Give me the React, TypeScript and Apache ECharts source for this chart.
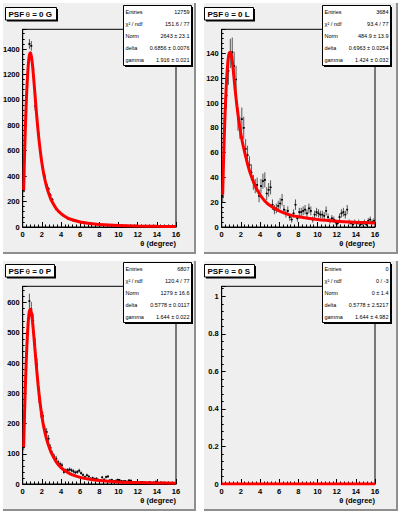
import React, { useEffect, useRef } from "react";
import * as echarts from "echarts";

// histogram bin centres (bin width 0.2 degree)
const binCenters = [
  0.1, 0.3, 0.5, 0.7, 0.9, 1.1, 1.3, 1.5, 1.7, 1.9,
  2.1, 2.3, 2.5, 2.7, 2.9, 3.1, 3.3, 3.5, 3.7, 3.9,
  4.1, 4.3, 4.5, 4.7, 4.9, 5.1, 5.3, 5.5, 5.7, 5.9,
  6.1, 6.3, 6.5, 6.7, 6.9, 7.1, 7.3, 7.5, 7.7, 7.9,
  8.1, 8.3, 8.5, 8.7, 8.9, 9.1, 9.3, 9.5, 9.7, 9.9,
  10.1, 10.3, 10.5, 10.7, 10.9, 11.1, 11.3, 11.5, 11.7, 11.9,
  12.1, 12.3, 12.5, 12.7, 12.9, 13.1, 13.3, 13.5, 13.7, 13.9,
  14.1, 14.3, 14.5, 14.7, 14.9, 15.1, 15.3, 15.5, 15.7, 15.9,
];

const countsG = [
  290, 820, 1200, 1440, 1425, 1245, 950, 860, 720, 560,
  470, 400, 330, 300, 250, 215, 170, 140, 125, 112,
  100, 88, 80, 66, 62, 56, 50, 53, 46, 40,
  38, 36, 35, 33, 30, 28, 25, 22, 21, 20,
  18, 16, 17, 14, 15, 13, 12, 14, 11, 12,
  10, 11, 9, 10, 8, 9, 7, 9, 8, 10,
  7, 6, 8, 6, 7, 5, 6, 5, 6, 4,
  5, 6, 4, 5, 4, 3, 5, 4, 3, 4,
];

const countsL = [
  25, 86, 106, 126, 140, 141, 130, 119, 87, 80,
  87, 80, 63, 58, 50, 44, 36, 33, 34, 25,
  33, 37, 38, 27, 30, 32, 18, 14, 15, 17,
  19, 22, 14, 11, 13, 8, 6, 11, 18, 7,
  12, 12, 13, 14, 11, 15, 13, 6, 10, 12,
  11, 10, 10, 9, 13, 8, 5, 7, 6, 4,
  3, 8, 11, 12, 10, 14, 4, 3, 2, 4,
  3, 4, 2, 3, 4, 2, 5, 6, 4, 5,
];

const countsP = [
  122, 350, 500, 605, 578, 540, 462, 395, 285, 235,
  225, 180, 172, 150, 120, 100, 90, 84, 72, 66,
  62, 40, 45, 46, 48, 45, 42, 38, 40, 44,
  36, 30, 23, 29, 25, 18, 20, 17, 18, 14,
  12, 22, 15, 23, 25, 12, 14, 10, 11, 14,
  13, 10, 9, 10, 8, 12, 11, 7, 6, 7,
  5, 6, 7, 5, 4, 5, 6, 4, 5, 8,
  4, 3, 5, 4, 3, 4, 3, 4, 3, 4,
];

const countsS: number[] = [];

// fitted curves
const curveXG = [0.1, 0.2, 0.3, 0.4, 0.5, 0.6, 0.7, 0.8, 0.9, 1.0, 1.1, 1.2, 1.3, 1.4, 1.6, 1.8, 2.0, 2.2, 2.5, 2.8, 3.0, 3.5, 4.0, 4.5, 5.0, 6.0, 7.0, 8.0, 10, 12, 14, 16];
const curveYG = [290, 580, 830, 1030, 1180, 1290, 1350, 1370, 1345, 1290, 1210, 1120, 1025, 930, 760, 620, 505, 415, 315, 245, 208, 145, 105, 79, 61, 39, 27, 20, 12, 8, 5.5, 4];

const curveXL = [0.1, 0.2, 0.3, 0.4, 0.5, 0.6, 0.7, 0.8, 0.9, 1.0, 1.1, 1.2, 1.4, 1.6, 1.8, 2.0, 2.2, 2.5, 2.8, 3.0, 3.5, 4.0, 4.5, 5.0, 6.0, 7.0, 8.0, 10, 12, 14, 16];
const curveYL = [26, 55, 80, 101, 117, 129, 137, 140.5, 141, 139, 134, 127, 111, 97, 85, 75, 67, 57, 48, 43, 33, 26, 21, 17.5, 13, 10, 8.2, 6, 4.7, 3.9, 3.3];

const curveXP = [0.1, 0.2, 0.3, 0.4, 0.5, 0.6, 0.7, 0.8, 0.9, 1.0, 1.1, 1.2, 1.4, 1.6, 1.8, 2.0, 2.2, 2.5, 2.8, 3.0, 3.5, 4.0, 4.5, 5.0, 6.0, 7.0, 8.0, 10, 12, 14, 16];
const curveYP = [122, 240, 345, 430, 497, 545, 572, 578, 568, 545, 512, 475, 400, 330, 272, 225, 188, 148, 118, 102, 73, 54, 42, 33, 22, 15.5, 11.5, 7, 4.8, 3.5, 2.7];

const curveXS = [0, 16];
const curveYS = [0, 0];

const titlePrefix = "PSF";
const titleSuffixes = ["= 0 G", "= 0 L", "= 0 P", "= 0 S"];
const yMaxes = [1555, 159.5, 654, 1.053];
const yIntervals = [200, 20, 100, 0.2];
const xTicks = { min: 0, max: 16, interval: 2 };
const xTitle = "θ (degree)";

const statLabels = ["Entries", "χ² / ndf", "Norm", "delta", "gamma"];
const statsG = ["12759", "151.6 / 77", "2643 ± 23.1", "0.6856 ± 0.0076", "1.916 ± 0.021"];
const statsL = ["3684", "93.4 / 77", "484.9 ± 13.9", "0.6963 ± 0.0254", "1.424 ± 0.032"];
const statsP = ["6807", "120.4 / 77", "1279 ± 16.6", "0.5778 ± 0.0117", "1.644 ± 0.022"];
const statsS = ["0", "0 / -3", "0 ± 1.4", "0.5778 ± 2.5217", "1.644 ± 4.982"];

const FONT = "'Liberation Sans', Arial, Helvetica, sans-serif";
const PAD_COLOR = "#efefef";

export default function App() {
  const ref = useRef<HTMLDivElement>(null);
  useEffect(() => {
    if (!ref.current) return;
    const chart = echarts.init(ref.current, null, { renderer: "svg", width: 399, height: 514 });

    const counts = [countsG, countsL, countsP, countsS];
    const curvesX = [curveXG, curveXL, curveXP, curveXS];
    const curvesY = [curveYG, curveYL, curveYP, curveYS];
    const stats = [statsG, statsL, statsP, statsS];
    const origins = [[0, 0], [199, 0], [0, 257], [199, 257]];
    const padRects = [[2, 2, 193, 251], [203, 2, 194, 251], [2, 260, 193, 250], [203, 260, 194, 250]];
    const titleW = [51, 49, 49, 50];

    const grids: any[] = [];
    const xAxes: any[] = [];
    const yAxes: any[] = [];
    const series: any[] = [];
    const graphics: any[] = [];

    const renderErr = (params: any, api: any) => {
      const x = api.value(0);
      const y = api.value(1);
      const e = Math.sqrt(Math.max(y, 0));
      const c = api.coord([x, y]);
      const t = api.coord([x, y + e]);
      const b = api.coord([x, Math.max(0, y - e)]);
      const l = api.coord([x - 0.1, y]);
      const r = api.coord([x + 0.1, y]);
      return {
        type: "group",
        children: [
          { type: "line", shape: { x1: c[0], y1: t[1], x2: c[0], y2: b[1] }, style: { stroke: "#555", lineWidth: 1 } },
          { type: "line", shape: { x1: l[0], y1: c[1], x2: r[0], y2: c[1] }, style: { stroke: "#000", lineWidth: 1 } },
          { type: "rect", shape: { x: c[0] - 0.8, y: c[1] - 0.8, width: 1.6, height: 1.6 }, style: { fill: "#000" } },
        ],
      };
    };

    for (let i = 0; i < 4; i++) {
      const [ox, oy] = origins[i];
      const [px, py, pw, ph] = padRects[i];
      // pad
      graphics.push({ type: "rect", z: -10, shape: { x: px, y: py, width: pw, height: ph }, style: { fill: PAD_COLOR } });
      graphics.push({
        type: "polyline", z: -9,
        shape: { points: [[px, py + ph], [px, py], [px + pw, py]] },
        style: { stroke: "#ffffff", lineWidth: 2, fill: "none" },
      });
      graphics.push({
        type: "polyline", z: -9,
        shape: { points: [[px + 1, py + ph], [px + pw, py + ph], [px + pw, py + 1]] },
        style: { stroke: "#8f8f8f", lineWidth: 2, fill: "none" },
      });
      // title box
      graphics.push({ type: "rect", z: 50, shape: { x: ox + 7, y: oy + 9, width: titleW[i], height: 12.5 }, style: { fill: "#000" } });
      graphics.push({ type: "rect", z: 51, shape: { x: ox + 5.5, y: oy + 7.5, width: titleW[i], height: 12.5 }, style: { fill: "#fff", stroke: "#000", lineWidth: 1 } });
      graphics.push({
        type: "text", z: 52, x: ox + 8.5, y: oy + 14,
        style: {
          text: `{b|${titlePrefix}}{t|θ}{b| ${titleSuffixes[i]}}`,
          verticalAlign: "middle", align: "left",
          rich: {
            b: { fontSize: 8, fontWeight: "bold", fontFamily: FONT, fill: "#000" },
            t: { fontSize: 8, fontWeight: "normal", fontFamily: FONT, fill: "#000", padding: [0, 0, 0, 1.5] },
          },
        },
      });
      // stats box
      graphics.push({ type: "rect", z: 50, shape: { x: ox + 125, y: oy + 7, width: 68, height: 60 }, style: { fill: "#000" } });
      graphics.push({ type: "rect", z: 51, shape: { x: ox + 123.5, y: oy + 5.5, width: 68, height: 60 }, style: { fill: "#fff", stroke: "#000", lineWidth: 1 } });
      for (let k = 0; k < 5; k++) {
        const yy = oy + 12.3 + k * 11.85;
        graphics.push({
          type: "text", z: 52, x: ox + 125.5, y: yy,
          style: { text: statLabels[k], fontSize: 5.5, fontFamily: FONT, fill: "#000", verticalAlign: "middle", align: "left" },
        });
        graphics.push({
          type: "text", z: 52, x: ox + 189.5, y: yy,
          style: { text: stats[i][k], fontSize: 5.5, fontFamily: FONT, fill: "#000", verticalAlign: "middle", align: "right" },
        });
      }

      grids.push({
        left: ox + 22.7, top: oy + 29.3, width: 153.3, height: 197.7,
        show: true, backgroundColor: PAD_COLOR, borderColor: "#000", borderWidth: 1, containLabel: false,
      });
      xAxes.push({
        type: "value", gridIndex: i, min: xTicks.min, max: xTicks.max, interval: xTicks.interval,
        axisLine: { show: true, onZero: false, lineStyle: { color: "#000", width: 1 } },
        axisTick: { show: true, inside: true, length: 5, lineStyle: { color: "#000" } },
        minorTick: { show: true, splitNumber: 5, length: 2.5, lineStyle: { color: "#000" } },
        splitLine: { show: false },
        axisLabel: { fontSize: 7.5, fontWeight: "bold", fontFamily: FONT, color: "#000", margin: 3, formatter: (v: number) => String(v) },
        name: xTitle, nameLocation: "end", nameGap: 0,
        nameTextStyle: { fontSize: 7.5, fontWeight: "bold", fontFamily: FONT, color: "#000", align: "right", verticalAlign: "top", padding: [12, 0, 0, 0] },
      });
      yAxes.push({
        type: "value", gridIndex: i, min: 0, max: yMaxes[i], interval: yIntervals[i],
        axisLine: { show: true, onZero: false, lineStyle: { color: "#000", width: 1 } },
        axisTick: { show: true, inside: true, length: 4, lineStyle: { color: "#000" } },
        minorTick: { show: true, splitNumber: 5, length: 2, lineStyle: { color: "#000" } },
        splitLine: { show: false },
        axisLabel: {
          fontSize: 7.5, fontWeight: "bold", fontFamily: FONT, color: "#000", margin: 3, showMaxLabel: false,
          formatter: (v: number) => String(Math.round(v * 1000) / 1000),
        },
      });
      series.push({
        type: "custom", xAxisIndex: i, yAxisIndex: i, renderItem: renderErr, z: 3,
        data: counts[i].map((v, k) => [binCenters[k], v]),
      });
      series.push({
        type: "line", xAxisIndex: i, yAxisIndex: i, z: 5, showSymbol: false, smooth: 0.3,
        lineStyle: { color: "#ff0000", width: 3 },
        data: curvesX[i].map((x, k) => [x, curvesY[i][k]]),
      });
    }

    chart.setOption({
      animation: false,
      backgroundColor: "#ffffff",
      textStyle: { fontFamily: FONT },
      grid: grids,
      xAxis: xAxes,
      yAxis: yAxes,
      series,
      graphic: { elements: graphics },
    });
    return () => chart.dispose();
  }, []);
  return <div ref={ref} style={{ position: "fixed", left: 0, top: 0, width: 399, height: 514 }} />;
}
